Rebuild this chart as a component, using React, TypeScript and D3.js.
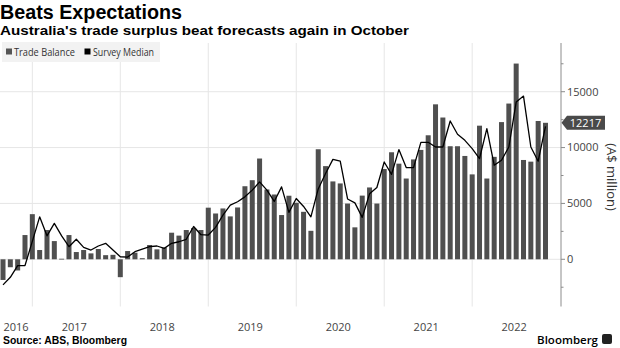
import React from "react";
import * as d3 from "d3";

// Monthly data, Aug 2016 .. Oct 2022 (A$ million)
const startYear = 2016;
const startMonth = 7; // August (0-based)
const tradeBalance = [
  -1850, -710, -1000, 2170, 4040,
  830, 2620, 1630, 50, 2170, 650, 830, 530, 920, 370, 400, -1600,
  740, 590, 100, 1280, 890, 1050, 2380, 2120, 2620, 2800, 2620, 4620,
  4100, 4550, 3840, 4640, 6540, 7080, 9020, 6250, 5800, 3960, 5690, 5060,
  4250, 2550, 9850, 8340, 6970, 6790, 4990, 2860, 5700, 6430, 4990, 8080,
  9580, 8560, 7230, 8940, 9790, 11100, 13870, 12690, 10120, 10120, 9250, 7600,
  11960, 7230, 9170, 12280, 13940, 17520, 8890, 8740, 12380, 12217,
];
const surveyMedian = [
  -2290, -1610, -560, -560, 1600,
  3800, 2100, 3210, 2100, 1130, 1790, 1070, 830, 1190, 1430, 830, 230,
  200, 680, 920, 1130, 1190, 980, 1430, 1570, 1790, 2940, 2200, 2170,
  2860, 3960, 4850, 5150, 5590, 6190, 6930, 6190, 5180, 6480, 4200, 5440,
  4730, 3800, 6300, 7680, 8940, 8790, 5400, 5050, 3750, 5860, 6430, 8710,
  7600, 9820, 8210, 8210, 10470, 10470, 10050, 10050, 12380, 11190, 10650, 9910,
  9020, 11700, 8420, 8870, 10050, 14070, 14610, 10050, 8780, 11900,
];
const yearLabels = ["2016", "2017", "2018", "2019", "2020", "2021", "2022"];
const yTickValues = [0, 5000, 10000, 15000];
const yMinorTicks = [-2500, 2500, 7500, 12500, 17500];
const lastValueLabel = "12217";

const W = 620;
const H = 348;
const FONT = "'Open Sans', 'DejaVu Sans', sans-serif";
const BOLD = "'Liberation Sans', Arial, sans-serif";

export default function App() {
  // month index: months since Jan 2016; bars placed at month-end (idx+1)
  const idx = (i: number) => startMonth + i + 1;
  const x = d3.scaleLinear().domain([idx(0), idx(tradeBalance.length - 1)]).range([3, 545.5]);
  const y = d3.scaleLinear().domain([-4225, 19360]).range([306.5, 43]);
  const axisX = 561;
  const barW = 5;

  const line = d3
    .line<number>()
    .x((_, i) => x(idx(i)))
    .y((d) => y(d));

  const years = yearLabels.map((lab, k) => {
    const yr = +lab;
    const start = (yr - startYear) * 12;
    const mid = x(start + 6) - 2;
    return { lab, start: x(start), mid };
  });

  const last = tradeBalance[tradeBalance.length - 1];
  const ly = y(last);

  return (
    <svg
      width={W}
      height={H}
      style={{ position: "absolute", left: 0, top: 0, background: "#fff" }}
      fontFamily={FONT}
    >
      <rect x={0} y={0} width={W} height={H} fill="#fff" />
      {/* Titles */}
      <text x={0} y={19} fontFamily={BOLD} fontWeight="bold" fontSize={19.5} fill="#000" textLength={182} lengthAdjust="spacingAndGlyphs">
        Beats Expectations
      </text>
      <text x={0} y={35} fontFamily={BOLD} fontWeight="bold" fontSize={13} fill="#000" textLength={409} lengthAdjust="spacingAndGlyphs">
        Australia's trade surplus beat forecasts again in October
      </text>

      {/* Horizontal gridlines */}
      {[...yTickValues].map((v) => (
        <line key={"h" + v} x1={0} x2={axisX} y1={y(v)} y2={y(v)} stroke="#e6e6e6" strokeWidth={1} />
      ))}
      {/* Vertical gridlines at year starts */}
      {years
        .filter((d) => d.start > 0)
        .map((d) => (
          <line key={"v" + d.lab} x1={d.start} x2={d.start} y1={43} y2={306.5} stroke="#e6e6e6" strokeWidth={1} />
        ))}

      {/* Legend */}
      <rect x={2} y={42} width={158} height={20} fill="#f2f2f2" />
      <rect x={6} y={48.5} width={6} height={6} fill="#555" />
      <text x={14} y={55.5} fontSize={10.5} fill="#333" textLength={61} lengthAdjust="spacingAndGlyphs">
        Trade Balance
      </text>
      <rect x={84.5} y={48.5} width={6} height={6} fill="#000" />
      <text x={93} y={55.5} fontSize={10.5} fill="#333" textLength={61} lengthAdjust="spacingAndGlyphs">
        Survey Median
      </text>

      {/* Bars */}
      {tradeBalance.map((v, i) => {
        const cx = x(idx(i));
        const y0 = y(0);
        const y1 = y(v);
        return (
          <rect
            key={"b" + i}
            x={cx - barW / 2}
            y={Math.min(y0, y1)}
            width={barW}
            height={Math.max(0.8, Math.abs(y1 - y0))}
            fill="#4f4f4f"
          />
        );
      })}

      {/* Survey median line */}
      <path d={line(surveyMedian) || ""} fill="none" stroke="#000" strokeWidth={1.3} strokeLinejoin="round" />

      {/* Right axis */}
      <line x1={axisX} x2={axisX} y1={43} y2={306.5} stroke="#8c8c8c" strokeWidth={1} />
      {yTickValues.map((v) => (
        <g key={"t" + v}>
          <line x1={axisX} x2={axisX + 4} y1={y(v)} y2={y(v)} stroke="#8c8c8c" />
          <text x={axisX + 6} y={y(v)} dy="0.35em" fontSize={11} fill="#444">
            {v}
          </text>
        </g>
      ))}
      {yMinorTicks.map((v) => (
        <line key={"m" + v} x1={axisX} x2={axisX + 2.5} y1={y(v)} y2={y(v)} stroke="#8c8c8c" />
      ))}

      {/* Last value label */}
      <path
        d={`M${axisX + 0.5},${ly} L${axisX + 6},${ly - 7} L605,${ly - 7} L605,${ly + 7} L${axisX + 6},${ly + 7} Z`}
        fill="#4a4a4a"
      />
      <text x={585.5} y={ly} dy="0.36em" fontSize={11} fill="#fff" textAnchor="middle">
        {lastValueLabel}
      </text>

      {/* Axis title */}
      <text
        transform={`translate(607,177) rotate(90)`}
        textAnchor="middle"
        fontSize={13}
        fill="#333"
      >
        (A$ million)
      </text>

      {/* Year labels */}
      {years.map((d) => {
        const cx = Math.max(d.mid, 16);
        return (
          <text key={"y" + d.lab} x={cx} y={331} textAnchor="middle" fontSize={11} fill="#444">
            {d.lab}
          </text>
        );
      })}

      {/* Footer */}
      <text x={3} y={344} fontFamily={BOLD} fontWeight="bold" fontSize={10} fill="#000" textLength={124} lengthAdjust="spacingAndGlyphs">
        Source: ABS, Bloomberg
      </text>
      <text x={598} y={344} textAnchor="end" fontSize={11.5} fill="#000" fontWeight={600}>
        Bloomberg
      </text>
      <rect x={602} y={334} width={10} height={10} rx={2} fill="#222" />
    </svg>
  );
}
